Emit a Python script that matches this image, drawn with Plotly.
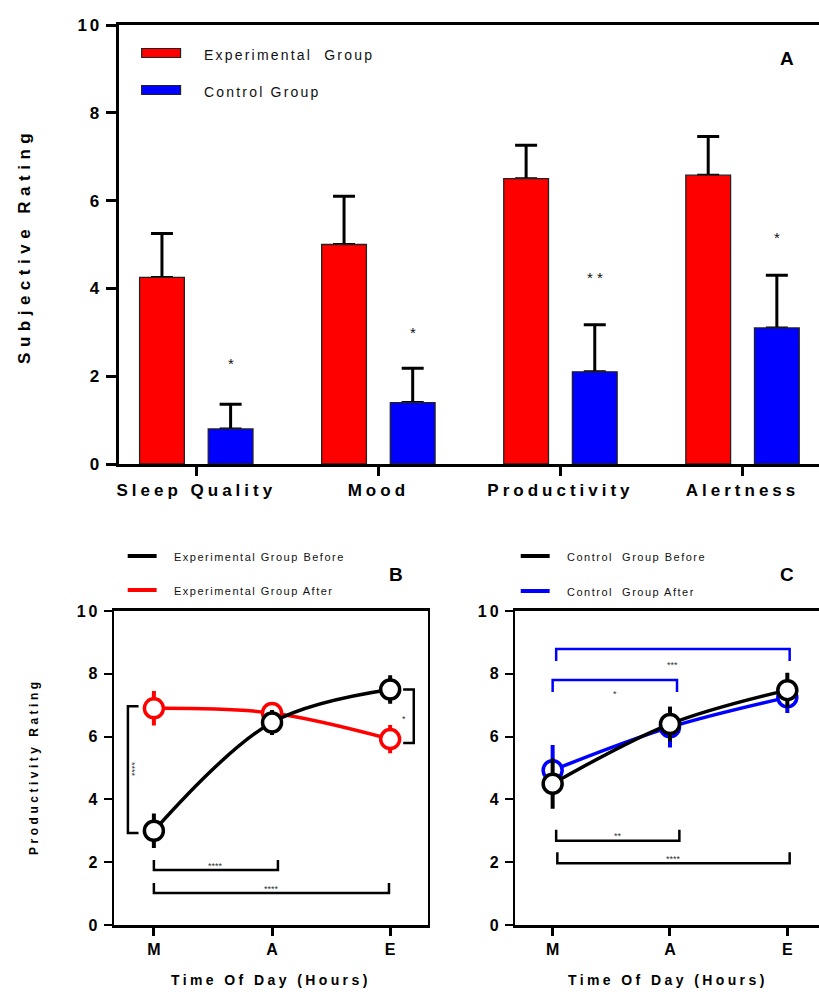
import plotly.graph_objects as go

FONT = "Liberation Sans, Arial, sans-serif"
W, H = 819, 1000
# The page body offsets the plot by 8px and the final page image is squeezed
# slightly in height; vertical placements are corrected for that below.
PAGE_TOP, PAGE_SQUEEZE = 8, 0.981

# ---- Panel A: subjective ratings by group ----
categories = ["Sleep Quality", "Mood", "Productivity", "Alertness"]
exp_mean = [4.25, 5.0, 6.5, 6.58]
exp_err = [1.0, 1.1, 0.76, 0.88]
ctl_mean = [0.8, 1.4, 2.1, 3.1]
ctl_err = [0.56, 0.78, 1.07, 1.2]
ctl_sig = ["*", "*", "* *", "*"]
ctl_sig_y = [2.3, 3.0, 4.25, 5.15]

# ---- Panels B and C: productivity across the day ----
times = ["M", "A", "E"]
exp_before = [3.0, 6.45, 7.5]
exp_before_err = [0.55, 0.4, 0.45]
exp_after = [6.9, 6.75, 5.92]
exp_after_err = [0.55, 0.35, 0.45]
ctl_before = [4.5, 6.4, 7.48]
ctl_before_err = [0.8, 0.55, 0.55]
ctl_after = [4.93, 6.3, 7.25]
ctl_after_err = [0.8, 0.65, 0.5]

# significance brackets: (x0, x1, y, tick length, label, label_y)
b_brackets = [(0, 1.05, 1.75, 0.32, "****", 1.88), (0, 1.99, 1.02, 0.32, "****", 1.15)]
c_top_brackets = [(0.03, 2.02, 8.79, -0.38, "***", 8.28), (0, 1.06, 7.8, -0.38, "*", 7.36)]
c_bottom_brackets = [(0.03, 1.08, 2.68, 0.35, "**", 2.82), (0.04, 2.02, 1.97, 0.35, "****", 2.1)]

x_pos = list(range(len(times)))


def px(x):
    return x / W


def py(y):
    return 1 - ((y - PAGE_TOP) / PAGE_SQUEEZE) / H


def spaced(text, sp):
    return f'<span style="letter-spacing:{sp}px">{text}</span>'


fig = go.Figure()

# Bars: an invisible copy carries the error bars, the visible bar is drawn over it
bar_specs = [
    ("Experimental Group", exp_mean, exp_err, "#ff0000", "exp"),
    ("Control Group", ctl_mean, ctl_err, "#0000ff", "ctl"),
]
for name, mean, err, col, grp in bar_specs:
    fig.add_trace(go.Bar(
        x=categories, y=mean, name=name + " SEM", offsetgroup=grp,
        marker=dict(color="rgba(0,0,0,0)", line=dict(width=0)),
        error_y=dict(type="data", symmetric=False, array=err, arrayminus=[0] * len(err),
                     color="black", thickness=3, width=11),
        xaxis="x", yaxis="y", showlegend=False, hoverinfo="skip",
    ))
for name, mean, err, col, grp in bar_specs:
    fig.add_trace(go.Bar(
        x=categories, y=mean, name=name, offsetgroup=grp,
        marker=dict(color=col, line=dict(color="#222222", width=1.3)),
        xaxis="x", yaxis="y", showlegend=False,
    ))


def line_trace(yv, err, color, name, xa, ya):
    return go.Scatter(
        x=x_pos, y=yv, name=name, mode="lines+markers",
        line=dict(color=color, width=3.5, shape="spline", smoothing=1),
        marker=dict(symbol="circle", size=19, color="white", line=dict(color=color, width=3.5)),
        error_y=dict(type="data", array=err, color=color, thickness=4, width=0),
        xaxis=xa, yaxis=ya, showlegend=False,
    )


fig.add_trace(line_trace(exp_after, exp_after_err, "#ff0000", "Experimental Group After", "x2", "y2"))
fig.add_trace(line_trace(exp_before, exp_before_err, "#000000", "Experimental Group Before", "x2", "y2"))
fig.add_trace(line_trace(ctl_after, ctl_after_err, "#0000ff", "Control Group After", "x3", "y3"))
fig.add_trace(line_trace(ctl_before, ctl_before_err, "#000000", "Control Group Before", "x3", "y3"))

shapes = []
annotations = []


def label(x, y, text, size, color="black", bold=False, xanchor="center", yanchor="middle",
          xref="paper", yref="paper", angle=0, xshift=0):
    font = dict(family=FONT, size=size, color=color)
    if bold:
        font["weight"] = "bold"
    return dict(x=x, y=y, xref=xref, yref=yref, text=text, showarrow=False, textangle=angle,
                xanchor=xanchor, yanchor=yanchor, align="left", xshift=xshift, font=font)


# Stars above the control bars
for cat, s, yy in zip(categories, ctl_sig, ctl_sig_y):
    annotations.append(label(cat, yy, s, 15, "#111", xref="x", yref="y", xshift=34.5))


def bracket_h(x0, x1, y, tick, color, xr, yr):
    return dict(type="path", xref=xr, yref=yr,
                path=f"M {x0},{y + tick} L {x0},{y} L {x1},{y} L {x1},{y + tick}",
                line=dict(color=color, width=2.5))


def star(x, y, text, xr, yr, angle=0):
    return label(x, y, text, 9, "#333", xref=xr, yref=yr, angle=angle)


# Panel B brackets
for x0, x1, y, t, lab, ly in b_brackets:
    shapes.append(bracket_h(x0, x1, y, t, "black", "x2", "y2"))
    annotations.append(star((x0 + x1) / 2, ly, lab, "x2", "y2"))
# vertical bracket between groups at M
shapes.append(dict(type="path", xref="x2", yref="y2",
                   path=f"M -0.13,{exp_after[0] + 0.07} L -0.22,{exp_after[0] + 0.07} "
                        f"L -0.22,{exp_before[0] - 0.07} L -0.13,{exp_before[0] - 0.07}",
                   line=dict(color="black", width=2.5)))
annotations.append(star(-0.18, (exp_after[0] + exp_before[0]) / 2, "****", "x2", "y2", angle=90))
# vertical bracket between groups at E
shapes.append(dict(type="path", xref="x2", yref="y2",
                   path=f"M 2.11,{exp_before[2]} L 2.2,{exp_before[2]} "
                        f"L 2.2,{exp_after[2] - 0.12} L 2.11,{exp_after[2] - 0.12}",
                   line=dict(color="black", width=2.5)))
annotations.append(star(2.12, 6.55, "*", "x2", "y2"))

# Panel C brackets
for x0, x1, y, t, lab, ly in c_top_brackets:
    shapes.append(bracket_h(x0, x1, y, t, "#0000ff", "x3", "y3"))
    annotations.append(star((x0 + x1) / 2, ly, lab, "x3", "y3"))
for x0, x1, y, t, lab, ly in c_bottom_brackets:
    shapes.append(bracket_h(x0, x1, y, t, "black", "x3", "y3"))
    annotations.append(star((x0 + x1) / 2, ly, lab, "x3", "y3"))

# Legend A
for yy, col, lab in [(52, "#ff0000", "Experimental  Group"), (89, "#0000ff", "Control Group")]:
    shapes.append(dict(type="rect", xref="paper", yref="paper",
                       x0=px(140), x1=px(179), y0=py(yy - 4.5), y1=py(yy + 4.5),
                       fillcolor=col, line=dict(color="#222", width=1.2)))
    annotations.append(label(px(200), py(yy + 2), spaced(lab, 2.2), 14, "#111", xanchor="left"))

# Legends B and C
for x0, items in [(126, [(555, "black", "Experimental Group Before"), (589, "#ff0000", "Experimental Group After")]),
                  (520, [(555, "black", "Control  Group Before"), (590, "#0000ff", "Control  Group After")])]:
    for yy, col, lab in items:
        shapes.append(dict(type="line", xref="paper", yref="paper",
                           x0=px(x0), x1=px(x0 + 29), y0=py(yy), y1=py(yy),
                           line=dict(color=col, width=4)))
        annotations.append(label(px(x0 + 44), py(yy + 1), spaced(lab, 1.5), 11, "#111", xanchor="left"))

# Panel letters
for x, y, lab in [(787, 58, "A"), (395, 574, "B"), (787, 574, "C")]:
    annotations.append(label(px(x), py(y), lab, 19, bold=True))

# Axis titles
annotations.append(label(px(22), py(245), spaced("Subjective Rating", 5.5), 17, bold=True, angle=-90))
annotations.append(label(px(32), py(765), spaced("Productivity Rating", 3.5), 12, bold=True, angle=-90))
for cx in (270, 668):
    annotations.append(label(px(cx), 0.0, spaced("Time Of Day (Hours)", 3.4), 14, bold=True,
                             yanchor="bottom"))

yticks = [0, 2, 4, 6, 8, 10]
ytext = [spaced(str(v), 3) for v in yticks]

fig.update_layout(
    width=W, height=H, autosize=False,
    margin=dict(l=0, r=0, t=0, b=0),
    paper_bgcolor="white", plot_bgcolor="white",
    barmode="group", bargap=0.246, bargroupgap=0.348,
    shapes=shapes, annotations=annotations,
    xaxis=dict(domain=[px(117), 1.0], anchor="y", range=[-0.426, 3.42],
               tickmode="array", tickvals=categories, ticktext=[spaced(c, 4) for c in categories],
               tickfont=dict(family=FONT, size=17, color="black", weight="bold"),
               showline=True, linewidth=3, linecolor="black", mirror=True,
               ticks="outside", ticklen=9, tickwidth=3, tickcolor="black",
               showgrid=False, zeroline=False),
    yaxis=dict(domain=[py(463), py(24)], anchor="x", range=[0, 10],
               tickmode="array", tickvals=yticks, ticktext=ytext,
               tickfont=dict(family=FONT, size=17, color="black", weight="bold"),
               showline=True, linewidth=3, linecolor="black",
               ticks="outside", ticklen=10, tickwidth=3, tickcolor="black",
               showgrid=False, zeroline=False),
    xaxis2=dict(domain=[px(112), px(427)], anchor="y2", range=[-0.34, 2.32],
                tickmode="array", tickvals=x_pos, ticktext=times,
                tickfont=dict(family=FONT, size=16, color="black", weight="bold"),
                showline=True, linewidth=2.5, linecolor="black", mirror=True,
                ticks="outside", ticklen=8, tickwidth=2.5, tickcolor="black",
                showgrid=False, zeroline=False),
    yaxis2=dict(domain=[py(924), py(610)], anchor="x2", range=[0, 10],
                tickmode="array", tickvals=yticks, ticktext=ytext,
                tickfont=dict(family=FONT, size=16, color="black", weight="bold"),
                showline=True, linewidth=2, linecolor="black", mirror=True,
                ticks="outside", ticklen=8, tickwidth=2, tickcolor="black",
                showgrid=False, zeroline=False),
    xaxis3=dict(domain=[px(514), 1.0], anchor="y3", range=[-0.323, 2.27],
                tickmode="array", tickvals=x_pos, ticktext=times,
                tickfont=dict(family=FONT, size=16, color="black", weight="bold"),
                showline=True, linewidth=2.5, linecolor="black", mirror=True,
                ticks="outside", ticklen=8, tickwidth=2.5, tickcolor="black",
                showgrid=False, zeroline=False),
    yaxis3=dict(domain=[py(924), py(610)], anchor="x3", range=[0, 10],
                tickmode="array", tickvals=yticks, ticktext=ytext,
                tickfont=dict(family=FONT, size=16, color="black", weight="bold"),
                showline=True, linewidth=2, linecolor="black",
                ticks="outside", ticklen=8, tickwidth=2, tickcolor="black",
                showgrid=False, zeroline=False),
)

fig.write_html("out.html")
